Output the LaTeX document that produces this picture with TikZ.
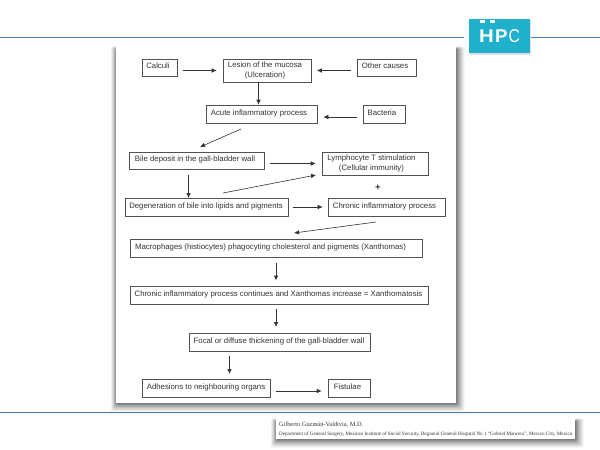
\documentclass[tikz,border=0pt]{standalone}
\usepackage{fontspec}
\setmainfont{Liberation Sans}
\newfontfamily\footfont{Liberation Serif}
\usetikzlibrary{arrows.meta,calc}
\definecolor{ink}{HTML}{333333}
\definecolor{rulecol}{HTML}{4A7EBB}
\definecolor{logocol}{HTML}{1FB0CC}
\newcommand{\ts}[2]{#2\hspace*{#1pt}}
\tikzset{
  x=1pt,y=-1pt,
  twobox/.style={draw=ink!85,line width=.6pt,fill=white,text=ink,font=\fontsize{7.8}{9.4}\selectfont,
    align=center,inner sep=0pt},
  stepbox/.style={twobox,text height=6pt,text depth=4pt},
  arr/.style={draw=ink,line width=.6pt,-{Latex[length=5pt,width=4.5pt]}},
  gap/.style={shorten <=#1,shorten >=#1},
  rulel/.style={draw=rulecol,line width=1.1pt},
  plusmark/.style={text=ink,font=\bfseries\fontsize{9.5}{9.5}\selectfont,inner sep=0pt},
  logotxt/.style={text=white,inner sep=0pt,anchor=base west},
  foot/.style={text=black!80,inner sep=0pt,anchor=base west},
}
\newcommand{\softshadow}[4]{% x1 y1 x2 y2
  \foreach \d/\o in {9/.03,8/.04,7/.05,6/.06,5/.07,4/.08,3/.09,2/.11,1/.13}{
    \fill[black,opacity=\o,rounded corners=2pt] (#1-\d*.7+1,#2+3-\d*.3) rectangle (#3+\d,#4+\d);
  }
  \fill[white] (#1,#2) rectangle (#3,#4);
}
\begin{document}
\begin{tikzpicture}
\useasboundingbox[fill=white] (0,0) rectangle (600,450);
% header and footer rules
\coordinate (rl1) at (0,37.5); \coordinate (rl2) at (464,37.5);
\coordinate (rr1) at (531,37.5); \coordinate (rr2) at (600,37.5);
\coordinate (bl1) at (0,412.5); \coordinate (bl2) at (600,412.5);
\draw[rulel] (rl1) -- (rl2);
\draw[rulel] (rr1) -- (rr2);
\draw[rulel] (bl1) -- (bl2);
% logo
\fill[black,opacity=.12] (470,20) rectangle (531,54.5);
\fill[logocol] (469,19) rectangle (530,53);
\fill[white] (480,20) rectangle (484.5,23);
\fill[white] (490,20) rectangle (494.5,23);
\node[logotxt,xscale=1.1,font=\bfseries\fontsize{18.5}{18.5}\selectfont] (logoh) at (479,42.7) {H};
\node[logotxt,font=\bfseries\fontsize{18.5}{18.5}\selectfont] (logop) at (495,42.7) {P};
\node[logotxt,xscale=.85,font=\fontsize{18.5}{18.5}\selectfont] (logoc) at (508.5,42.7) {C};
% page
\softshadow{116}{46}{456}{403}
% boxes
\node[stepbox,minimum width=35pt,minimum height=17pt] (calculi) at (159.5,67.5) {\ts{3}{Calculi}};
\node[twobox,minimum width=88pt,minimum height=23pt] (lesion) at (267,70.5) {\ts{4}{Lesion of the mucosa}\\\ts{4}{(Ulceration)}};
\node[stepbox,minimum width=59pt,minimum height=17pt] (other) at (386.5,67.5) {\ts{3}{Other causes}};
\node[stepbox,minimum width=111pt,minimum height=18pt] (acute) at (261.5,114) {\ts{5}{Acute inflammatory process}};
\node[stepbox,minimum width=42pt,minimum height=18pt] (bacteria) at (384,114) {\ts{4}{Bacteria}};
\node[stepbox,minimum width=135pt,minimum height=17pt] (bile) at (196.5,160.5) {\ts{3}{Bile deposit in the gall-bladder wall}};
\node[twobox,minimum width=106pt,minimum height=23pt] (lympho) at (375,163.5) {\ts{7}{Lymphocyte T stimulation}\\\ts{7}{(Cellular immunity)}};
\node[stepbox,minimum width=163pt,minimum height=18pt] (degen) at (206.5,207) {\ts{1}{Degeneration of bile into lipids and pigments}};
\node[stepbox,minimum width=117pt,minimum height=18pt] (chronic) at (386.5,207) {\ts{4}{Chronic inflammatory process}};
\node[stepbox,minimum width=292pt,minimum height=18pt] (macro) at (276,248) {\ts{11}{Macrophages (histiocytes) phagocyting cholesterol and pigments (Xanthomas)}};
\node[stepbox,minimum width=298pt,minimum height=18pt] (cont) at (279,295) {\ts{1}{Chronic inflammatory process continues and Xanthomas increase = Xanthomatosis}};
\node[stepbox,minimum width=181pt,minimum height=18pt] (focal) at (279.5,342) {\ts{1}{Focal or diffuse thickening of the gall-bladder wall}};
\node[stepbox,minimum width=128pt,minimum height=18pt] (adh) at (206,388) {Adhesions to neighbouring organs};
\node[stepbox,minimum width=42pt,minimum height=18pt] (fist) at (349,388) {\ts{3}{Fistulae}};
\node[plusmark] (plus) at (378,188) {+};
% free ends
\coordinate (aS) at (241,129); \coordinate (aE) at (200,147);
\coordinate (dS) at (223,193); \coordinate (dE) at (316,175);
\coordinate (cS) at (376,222); \coordinate (cE) at (294,233);
\coordinate (bS) at (188.5,175); \coordinate (bE) at (188.5,198);
\coordinate (mS) at (276,263); \coordinate (mE) at (276,280.5);
\coordinate (nS) at (276,309); \coordinate (nE) at (276,327);
\coordinate (fS) at (229.5,356); \coordinate (fE) at (229.5,374);
\coordinate (lx) at (258.5,0);
% connectors
\draw[arr,gap=6pt] (calculi.east |- lesion.west) -- (lesion.west);
\draw[arr,gap=5.5pt] (other.west |- lesion.east) -- (lesion.east);
\draw[arr] (lesion.south -| lx) -- (acute.north -| lx);
\draw[arr,gap=6pt] ($(bacteria.west)+(0,3)$) -- ($(acute.east)+(0,3)$);
\draw[arr,gap=6pt] ($(bile.east)+(0,3)$) -- (lympho.west);
\draw[arr,gap=5pt] (degen.east) -- (chronic.west);
\draw[arr] (aS) -- (aE);
\draw[arr] (dS) -- (dE);
\draw[arr] (cS) -- (cE);
\draw[arr] (bS) -- (bE);
\draw[arr] (mS) -- (mE);
\draw[arr] (nS) -- (nE);
\draw[arr] (fS) -- (fE);
\draw[arr,gap=6pt] ($(adh.east)+(0,3)$) -- ($(fist.west)+(0,3)$);
% footer card
\softshadow{276}{418}{575}{439}
\node[foot,font=\footfont\fontsize{6.35}{7}\selectfont] (author) at (279,426) {Gilberto Guzmán-Valdivia, M.D.};
\node[foot,font=\footfont\fontsize{5.08}{6}\selectfont] (dept) at (279,435.5) {Department of General Surgery, Mexican Institute of Social Security, Regional General Hospital No 1 “Gabriel Mancera”, Mexico City, Mexico};
\end{tikzpicture}
\end{document}
